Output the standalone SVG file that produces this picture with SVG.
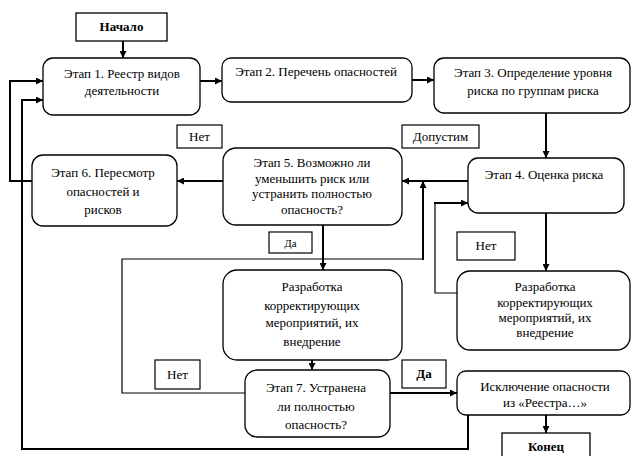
<svg xmlns="http://www.w3.org/2000/svg" width="631" height="456" viewBox="0 0 631 456">
<defs>
<marker id="ah2" viewBox="0 0 10 10" refX="10" refY="5" markerWidth="7" markerHeight="7" orient="auto" markerUnits="userSpaceOnUse">
<path d="M0,0 L10,5 L0,10 z" fill="#000"/>
</marker>
<style>
.box{fill:#fff;stroke:#000;stroke-width:1.3}
.lbl{fill:#fff;stroke:#000;stroke-width:1.2}
text{font-family:'Liberation Serif','Times New Roman',serif;font-size:13px;fill:#000;text-anchor:middle}
.b{font-weight:bold}
.c{fill:none;stroke:#000;stroke-width:2}
.t{fill:none;stroke:#000;stroke-width:1.2}
.a{marker-end:url(#ah2)}
</style>
</defs>
<rect width="631" height="456" fill="#fff"/>
<g id="connectors">
<line class="c a" x1="123" y1="41" x2="123" y2="58"/>
<line class="c a" x1="200" y1="81" x2="222" y2="81"/>
<line class="c a" x1="412" y1="80" x2="434" y2="80"/>
<line class="c a" x1="546" y1="113" x2="546" y2="158"/>
<line class="c a" x1="468" y1="181" x2="402" y2="181"/>
<line class="c a" x1="223" y1="181" x2="177" y2="181"/>
<polyline class="c a" points="32,181 10,181 10,81 43,81"/>
<polyline class="c a" points="468,415 468,449 22,449 22,100 43,100"/>
<line class="c a" x1="546" y1="213" x2="546" y2="271"/>
<polyline class="t" points="457,293 435,293 435,203"/>
<polyline class="c a" points="435,204 435,203 468,203"/>
<line class="c a" x1="323" y1="225" x2="323" y2="270"/>
<polyline class="t" points="245,393 122,393 122,259 423,259"/>
<polyline class="c a" points="423,260 423,181"/>
<line class="c a" x1="312" y1="360" x2="312" y2="370"/>
<line class="c a" x1="390" y1="393" x2="457" y2="393"/>
<line class="c a" x1="546" y1="415" x2="546" y2="433"/>
</g>
<g font-family="'Liberation Serif', 'Times New Roman', serif">
<g id="start">
<rect class="box" x="76" y="13" width="91" height="28"/>
<text class="b" x="121.5" y="31">Начало</text>
</g>
<g id="stage1">
<rect class="box" x="43" y="58" width="157" height="57" rx="10"/>
<text x="122" y="78">Этап 1. Реестр видов</text>
<text x="122" y="95">деятельности</text>
</g>
<g id="stage2">
<rect class="box" x="222" y="58" width="190" height="44" rx="9"/>
<text x="316" y="76">Этап 2. Перечень опасностей</text>
</g>
<g id="stage3">
<rect class="box" x="434" y="58" width="196" height="55" rx="10"/>
<text x="533" y="77">Этап 3. Определение уровня</text>
<text x="533" y="95">риска по группам риска</text>
</g>
<g id="label-net1">
<rect class="lbl" x="177" y="125" width="45" height="23"/>
<text x="199.5" y="141">Нет</text>
</g>
<g id="label-dopustim">
<rect class="lbl" x="402" y="125" width="77" height="23"/>
<text x="440.5" y="141">Допустим</text>
</g>
<g id="stage4">
<rect class="box" x="468" y="158" width="156" height="55" rx="10"/>
<text x="544" y="179">Этап 4. Оценка риска</text>
</g>
<g id="stage5">
<rect class="box" x="223" y="148" width="179" height="77" rx="13"/>
<text x="312" y="167">Этап 5. Возможно ли</text>
<text x="312" y="183">уменьшить риск или</text>
<text x="312" y="198">устранить полностью</text>
<text x="312" y="214">опасность?</text>
</g>
<g id="stage6">
<rect class="box" x="32" y="155" width="145" height="71" rx="11"/>
<text x="103" y="177">Этап 6.  Пересмотр</text>
<text x="103" y="196">опасностей и</text>
<text x="103" y="214">рисков</text>
</g>
<g id="label-da1">
<rect class="lbl" x="269" y="232" width="43" height="21"/>
<text x="290.5" y="247" style="font-size:11px">Да</text>
</g>
<g id="label-net2">
<rect class="lbl" x="457" y="232" width="58" height="28"/>
<text x="486" y="250">Нет</text>
</g>
<g id="measures1">
<rect class="box" x="223" y="270" width="179" height="90" rx="14"/>
<text x="312" y="291">Разработка</text>
<text x="312" y="310">корректирующих</text>
<text x="312" y="327">мероприятий, их</text>
<text x="312" y="346">внедрение</text>
</g>
<g id="measures2">
<rect class="box" x="457" y="271" width="173" height="79" rx="13"/>
<text x="545" y="291">Разработка</text>
<text x="545" y="307">корректирующих</text>
<text x="545" y="322">мероприятий, их</text>
<text x="545" y="337">внедрение</text>
</g>
<g id="label-net3">
<rect class="lbl" x="155" y="360" width="45" height="29"/>
<text x="177.5" y="379">Нет</text>
</g>
<g id="label-da2">
<rect class="lbl" x="402" y="360" width="44" height="28"/>
<text class="b" x="424" y="378">Да</text>
</g>
<g id="stage7">
<rect class="box" x="245" y="370" width="145" height="67" rx="12"/>
<text x="316" y="392">Этап 7. Устранена</text>
<text x="316" y="411">ли полностью</text>
<text x="316" y="429">опасность?</text>
</g>
<g id="exclusion">
<rect class="box" x="457" y="371" width="173" height="44" rx="9"/>
<text x="545" y="391">Исключение опасности</text>
<text x="545" y="407">из «Реестра…»</text>
</g>
<g id="end">
<rect class="box" x="502" y="433" width="88" height="30"/>
<text class="b" x="546" y="451">Конец</text>
</g>
</g>
</svg>
